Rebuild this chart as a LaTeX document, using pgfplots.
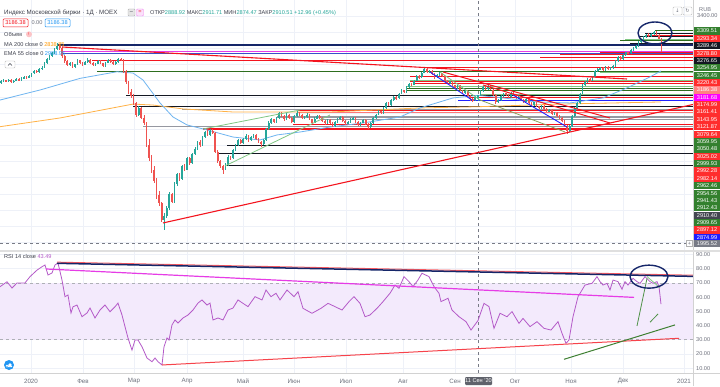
\documentclass[border=0pt]{standalone}
\usepackage{fontspec}
\setmainfont{Liberation Sans}
\newfontfamily\dejavu{DejaVu Sans}
\usepackage{pgfplots}
\pgfplotsset{compat=1.18}
\usepackage{pgfplotstable}

\definecolor{upc}{RGB}{38,166,154}
\definecolor{dnc}{RGB}{239,83,80}
\definecolor{navyc}{RGB}{21,38,105}
\definecolor{bluec2}{RGB}{57,80,200}
\definecolor{magc}{RGB}{230,60,230}
\definecolor{redc}{RGB}{244,20,30}
\definecolor{lredc}{RGB}{255,120,120}
\definecolor{dgreen}{RGB}{46,110,30}
\definecolor{lgreen}{RGB}{129,199,132}
\definecolor{blk}{RGB}{19,23,34}
\definecolor{grayc}{RGB}{150,152,161}
\definecolor{bluec}{RGB}{33,33,255}
\definecolor{mac}{RGB}{255,178,70}
\definecolor{emac}{RGB}{110,180,240}
\definecolor{rsic}{RGB}{180,90,200}
\definecolor{bandc}{RGB}{243,234,252}
\definecolor{gridc}{RGB}{238,241,248}
\definecolor{axtxt}{RGB}{110,113,125}
\definecolor{txt}{RGB}{60,63,75}
\definecolor{crossc}{RGB}{120,123,134}
\definecolor{labgreen}{RGB}{51,128,46}
\definecolor{labred}{RGB}{255,45,45}
\definecolor{labblack}{RGB}{19,23,34}
\definecolor{labpink}{RGB}{255,130,130}
\definecolor{labmag}{RGB}{255,0,255}
\definecolor{labdgray}{RGB}{67,70,81}
\definecolor{labblue}{RGB}{30,30,255}
\definecolor{emaval}{RGB}{33,150,243}
\definecolor{maval}{RGB}{255,152,0}
\definecolor{olive}{RGB}{140,160,90}

\newcommand\fs{\fontsize{6.2}{7}\selectfont}
\newcommand\fss{\fontsize{5.6}{6}\selectfont}

\pgfplotstableread{
i o h l c
0 2988 3002 2982 2995
1 2995 3008 2990 3002
2 3002 3006 2992 2998
3 2998 3012 2994 3005
4 3005 3009 2987 2993
5 2993 3006 2988 3000
6 3000 3016 2996 3010
7 3010 3014 2999 3004
8 3004 3020 3000 3015
9 3015 3028 3010 3022
10 3022 3026 3012 3018
11 3018 3034 3014 3028
12 3028 3050 3024 3045
13 3045 3066 3040 3060
14 3060 3064 3048 3055
15 3055 3078 3050 3072
16 3072 3088 3066 3080
17 3080 3116 3076 3110
18 3110 3140 3104 3135
19 3135 3158 3128 3150
20 3150 3176 3144 3170
21 3170 3202 3164 3195
22 3195 3232 3190 3215
23 3215 3225 3192 3200
24 3200 3206 3140 3150
25 3150 3158 3110 3120
26 3120 3128 3088 3095
27 3095 3118 3090 3110
28 3110 3115 3078 3085
29 3085 3106 3080 3100
30 3100 3132 3095 3125
31 3125 3130 3104 3110
32 3110 3115 3092 3098
33 3098 3124 3094 3118
34 3118 3138 3112 3130
35 3130 3134 3106 3112
36 3112 3116 3088 3095
37 3095 3110 3090 3105
38 3105 3128 3100 3122
39 3122 3126 3102 3108
40 3108 3112 3084 3090
41 3090 3118 3086 3112
42 3112 3134 3108 3128
43 3128 3132 3110 3115
44 3115 3120 3094 3100
45 3100 3124 3096 3118
46 3118 3142 3112 3135
47 3135 3140 3120 3128
48 3128 3132 3050 3060
49 3060 3068 2980 2990
50 2990 3000 2918 2930
51 2930 2950 2890 2905
52 2905 2915 2850 2860
53 2860 2870 2775 2790
54 2790 2845 2780 2830
55 2830 2836 2760 2770
56 2770 2790 2725 2740
57 2740 2745 2590 2600
58 2600 2640 2505 2520
59 2520 2540 2430 2445
60 2445 2470 2365 2380
61 2380 2395 2270 2290
62 2290 2320 2225 2240
63 2240 2250 2125 2140
64 2140 2180 2075 2165
65 2165 2225 2150 2210
66 2210 2310 2200 2300
67 2300 2305 2240 2250
68 2250 2370 2245 2360
69 2360 2430 2350 2420
70 2420 2428 2380 2390
71 2390 2480 2385 2470
72 2470 2482 2440 2450
73 2450 2530 2445 2520
74 2520 2526 2480 2490
75 2490 2555 2484 2545
76 2545 2590 2538 2580
77 2580 2628 2572 2620
78 2620 2630 2592 2600
79 2600 2660 2595 2650
80 2650 2688 2644 2680
81 2680 2692 2658 2665
82 2665 2700 2660 2690
83 2690 2698 2668 2675
84 2675 2680 2550 2560
85 2560 2572 2490 2500
86 2500 2512 2460 2470
87 2470 2478 2420 2450
88 2450 2488 2444 2480
89 2480 2540 2474 2530
90 2530 2536 2512 2520
91 2520 2578 2515 2570
92 2570 2608 2564 2600
93 2600 2638 2594 2630
94 2630 2636 2608 2615
95 2615 2648 2610 2640
96 2640 2668 2634 2660
97 2660 2665 2622 2630
98 2630 2658 2624 2650
99 2650 2672 2644 2665
100 2665 2670 2632 2640
101 2640 2646 2612 2620
102 2620 2626 2590 2605
103 2605 2638 2600 2630
104 2630 2708 2625 2700
105 2700 2748 2694 2740
106 2740 2768 2734 2760
107 2760 2765 2738 2745
108 2745 2778 2740 2770
109 2770 2808 2764 2800
110 2800 2806 2774 2780
111 2780 2786 2752 2760
112 2760 2798 2755 2790
113 2790 2796 2764 2770
114 2770 2775 2738 2745
115 2745 2788 2740 2780
116 2780 2810 2774 2800
117 2800 2806 2784 2790
118 2790 2795 2764 2770
119 2770 2782 2762 2775
120 2775 2798 2770 2790
121 2790 2795 2754 2760
122 2760 2765 2732 2740
123 2740 2772 2735 2765
124 2765 2788 2760 2780
125 2780 2785 2764 2770
126 2770 2775 2744 2750
127 2750 2756 2728 2735
128 2735 2762 2730 2755
129 2755 2760 2734 2740
130 2740 2746 2712 2720
131 2720 2752 2715 2745
132 2745 2768 2740 2760
133 2760 2782 2755 2775
134 2775 2780 2744 2750
135 2750 2755 2728 2735
136 2735 2752 2730 2745
137 2745 2766 2740 2760
138 2760 2778 2755 2770
139 2770 2775 2740 2745
140 2745 2750 2718 2725
141 2725 2746 2720 2740
142 2740 2762 2735 2755
143 2755 2760 2724 2730
144 2730 2735 2700 2715
145 2715 2742 2710 2735
146 2735 2778 2730 2770
147 2770 2796 2765 2790
148 2790 2816 2785 2810
149 2810 2815 2792 2800
150 2800 2836 2795 2830
151 2830 2866 2825 2860
152 2860 2865 2842 2850
153 2850 2886 2845 2880
154 2880 2908 2874 2900
155 2900 2905 2882 2890
156 2890 2926 2885 2920
157 2920 2946 2915 2940
158 2940 2945 2922 2930
159 2930 2966 2925 2960
160 2960 2986 2955 2980
161 2980 2986 2968 2975
162 2975 3006 2970 3000
163 3000 3036 2995 3030
164 3030 3035 3012 3020
165 3020 3056 3015 3050
166 3050 3082 3045 3070
167 3070 3076 3048 3055
168 3055 3068 3050 3060
169 3060 3064 3034 3040
170 3040 3045 3012 3020
171 3020 3042 3015 3035
172 3035 3052 3030 3045
173 3045 3050 3024 3030
174 3030 3035 2994 3000
175 3000 3005 2978 2985
176 2985 3000 2980 2995
177 2995 3000 2964 2970
178 2970 2975 2948 2955
179 2955 2970 2950 2965
180 2965 2970 2934 2940
181 2940 2945 2918 2925
182 2925 2940 2920 2935
183 2935 2940 2898 2905
184 2905 2910 2875 2885
185 2885 2890 2870 2880
186 2880 2904 2876 2897.55
187 2888.92 2911.71 2874.47 2910.51
188 2910 2940 2905 2935
189 2935 2966 2930 2960
190 2960 2965 2944 2950
191 2950 2972 2945 2965
192 2965 2970 2940 2945
193 2945 2950 2905 2910
194 2910 2915 2858 2870
195 2870 2885 2862 2880
196 2880 2910 2875 2905
197 2905 2926 2900 2920
198 2920 2925 2908 2915
199 2915 2920 2894 2900
200 2900 2930 2895 2925
201 2925 2930 2904 2910
202 2910 2915 2884 2890
203 2890 2906 2885 2900
204 2900 2905 2874 2880
205 2880 2885 2864 2870
206 2870 2890 2865 2885
207 2885 2890 2854 2860
208 2860 2865 2844 2850
209 2850 2870 2845 2865
210 2865 2870 2834 2840
211 2840 2845 2824 2830
212 2830 2850 2825 2845
213 2845 2850 2819 2825
214 2825 2830 2804 2810
215 2810 2826 2805 2820
216 2820 2825 2790 2795
217 2795 2806 2790 2800
218 2800 2805 2774 2780
219 2780 2786 2764 2770
220 2770 2775 2744 2750
221 2750 2755 2712 2720
222 2720 2728 2670 2690
223 2690 2728 2680 2720
224 2720 2786 2715 2780
225 2780 2836 2775 2830
226 2830 2866 2825 2860
227 2860 2926 2855 2920
228 2920 2982 2915 2975
229 2975 2996 2968 2990
230 2990 3016 2985 3010
231 3010 3015 2992 3000
232 3000 3030 2995 3025
233 3025 3066 3020 3060
234 3060 3076 3054 3070
235 3070 3086 3064 3080
236 3080 3085 3058 3065
237 3065 3090 3060 3085
238 3085 3090 3064 3070
239 3070 3084 3066 3078
240 3078 3096 3072 3090
241 3090 3126 3085 3120
242 3120 3150 3115 3145
243 3145 3150 3128 3135
244 3135 3166 3130 3160
245 3160 3180 3155 3175
246 3175 3180 3162 3170
247 3170 3196 3165 3190
248 3190 3206 3185 3200
249 3200 3220 3195 3215
250 3215 3246 3210 3240
251 3240 3260 3234 3255
252 3255 3276 3250 3270
253 3270 3290 3264 3285
254 3285 3292 3268 3275
255 3275 3296 3270 3290
256 3290 3310 3284 3300
257 3300 3305 3278 3285
258 3285 3290 3255 3260
259 3250 3262 3176 3186.38
}\candles

\pgfplotstableread{
x r
0 67.3
7 70.8
12 66.4
17 70
25 70
30 74.4
37 79
42 81.4
45 82.6
48 75.6
52 77
55 82.6
58 84
62 72
65 60.3
68 61.5
71 48.8
73 53.2
77 54.4
82 46.2
87 48.8
90 52.3
95 45.3
100 50.9
105 54.4
110 49.7
115 53.2
118 55.8
122 47.4
125 39.2
128 31.2
132 22.7
135 29.8
138 29.8
142 25
147 17.1
152 14.5
155 17.1
158 14.5
162 12.2
164 25
167 31.2
169 29.8
172 40.4
175 43.9
178 41.8
183 45.3
188 47.4
193 50.9
198 55.8
202 58
207 54.4
210 55.8
213 43.9
218 45.3
223 43.9
228 50.9
233 52.3
238 58
243 55.6
248 53.3
255 60.3
262 58
266 65
271 60.3
276 62.7
280 58
287 65
294 60.3
298 63.8
303 52.1
312 48.6
321 52.1
328 55.6
335 53.3
342 50.9
349 56.8
354 60.3
360 55.6
365 46.2
370 47.4
377 52.1
383 56.8
390 62.7
395 68.5
399 66.2
404 74.4
409 70.9
413 67.4
418 72.1
422 76.8
429 74.4
434 67.4
439 62.7
441 56.8
448 59.2
452 50.9
459 46.2
466 42.7
471 36.8
478 43.5
484 55.6
489 53.3
494 38
500 48.6
507 46.2
512 49.8
519 41.5
523 45
530 39.2
537 42.7
544 38
551 36.8
558 42.7
562 34.5
566 27.4
569 29.8
573 46.2
578 60.3
585 68.5
592 69.7
597 74.4
600 70.9
603 68.5
607 69.7
610 65
613 72
618 70.9
622 65.5
625 70.9
628 68.5
633 73.2
637 70.9
640 69.7
645 74.4
650 70.9
653 69.7
657 70.9
659 67.4
661 55
}\rsi

\pgfplotstableread{
x p
0 2715
60 2769
133 2855
153 2849
183 2825
233 2806
330 2806
420 2831
480 2839
560 2855
661 2868
}\maline

\pgfplotstableread{
x p
0 2880
40 2942
80 3014
117 3055
133 3047
143 3004
160 2862
173 2775
187 2726
207 2695
233 2651
260 2633
277 2664
300 2682
330 2713
363 2738
400 2775
420 2831
453 2893
478 2909
503 2893
537 2868
570 2862
603 2893
627 2955
650 3023
661 3060
}\emaline

\begin{document}
\begin{tikzpicture}[x=1pt,y=1pt]
\fill[white] (0,0) rectangle (720,386);

% ================= MAIN PRICE PANEL =================
\begin{axis}[
  at={(0pt,136pt)}, anchor=south west, scale only axis,
  width=693pt, height=250pt,
  xmin=0, xmax=693, ymin=1952, ymax=3499,
  axis line style={draw=none}, tick style={draw=none},
  xtick={31,83,134,187,243,294,346,403,455,515,571,623,684},
  ytick={2000,2100,...,3400},
  xticklabels={}, yticklabels={},
  xmajorgrids, ymajorgrids,
  grid style={color=gridc, line width=0.5pt},
]
% horizontal level lines
\addplot[navyc, line width=1.3pt] coordinates {(57,3220.43)(693,3220.43)};
\addplot[navyc, line width=1.0pt] coordinates {(63,3178)(693,3178)};
\addplot[bluec2, line width=0.8pt] coordinates {(63,3167)(693,3167)};
\addplot[magc, line width=0.8pt] coordinates {(63,3181.68)(693,3181.68)};
\addplot[redc, line width=0.8pt] coordinates {(648,3293.34)(693,3293.34)};
\addplot[redc, line width=0.8pt] coordinates {(645,3278.80)(693,3278.80)};
\addplot[redc, line width=0.8pt] coordinates {(600,3174.99)(693,3174.99)};
\addplot[redc, line width=0.8pt] coordinates {(560,3161.41)(693,3161.41)};
\addplot[redc, line width=0.8pt] coordinates {(540,3143.95)(693,3143.95)};
\addplot[redc, line width=1.0pt] coordinates {(92,3121.87)(693,3121.87)};
\addplot[redc, line width=1.0pt] coordinates {(423,3079.64)(693,3079.64)};
\addplot[redc, line width=0.8pt] coordinates {(410,3025.02)(693,3025.02)};
\addplot[redc, line width=0.8pt] coordinates {(410,2992.28)(693,2992.28)};
\addplot[redc, line width=0.8pt] coordinates {(415,2982.14)(693,2982.14)};
\addplot[redc, line width=0.8pt] coordinates {(470,2897.12)(693,2897.12)};
\addplot[redc, line width=0.9pt] coordinates {(298,2818)(693,2818)};
\addplot[lredc, line width=0.9pt] coordinates {(298,2806)(693,2806)};
\addplot[redc, line width=0.8pt] coordinates {(293,2732)(693,2732)};
\addplot[redc, line width=1.3pt] coordinates {(203,2701)(693,2701)};
\addplot[dgreen, line width=0.8pt] coordinates {(655,3309.51)(693,3309.51)};
\addplot[lgreen, line width=1.0pt] coordinates {(625,3254.95)(693,3254.95)};
\addplot[dgreen, line width=0.8pt] coordinates {(620,3246.45)(693,3246.45)};
\addplot[dgreen, line width=0.9pt] coordinates {(97,3059.95)(693,3059.95)};
\addplot[lgreen, line width=1.0pt] coordinates {(600,3050.48)(693,3050.48)};
\addplot[lgreen, line width=1.5pt] coordinates {(410,2999.93)(693,2999.93)};
\addplot[lgreen, line width=1.0pt] coordinates {(407,2962.46)(693,2962.46)};
\addplot[dgreen, line width=0.8pt] coordinates {(407,2954.56)(693,2954.56)};
\addplot[dgreen, line width=0.9pt] coordinates {(407,2941.43)(693,2941.43)};
\addplot[lgreen, line width=0.8pt] coordinates {(480,2912.43)(693,2912.43)};
\addplot[lgreen, line width=0.8pt] coordinates {(480,2909.65)(693,2909.65)};
\addplot[blk, line width=0.8pt] coordinates {(645,3289.46)(693,3289.46)};
\addplot[blk, line width=0.8pt] coordinates {(640,3276.65)(693,3276.65)};
\addplot[blk, line width=0.9pt] coordinates {(630,3233)(693,3233)};
\addplot[blk, line width=0.9pt] coordinates {(126,2910.40)(693,2910.40)};
\addplot[blk, line width=0.8pt] coordinates {(133,2843)(693,2843)};
\addplot[blk, line width=0.9pt] coordinates {(227,2596)(693,2596)};
\addplot[blk, line width=0.9pt] coordinates {(218,2552)(693,2552)};
\addplot[blk, line width=0.9pt] coordinates {(227,2478)(693,2478)};
\addplot[grayc, line width=1.0pt] coordinates {(182,2824.5)(693,2824.5)};
\addplot[grayc, line width=1.6pt] coordinates {(277,2775)(693,2775)};
\addplot[grayc, line width=1.6pt] coordinates {(143,2715)(693,2715)};
\addplot[grayc, line width=1.2pt] coordinates {(320,2762)(693,2762)};
\addplot[bluec, line width=0.8pt] coordinates {(458,2874.99)(693,2874.99)};
\addplot[bluec, line width=1.6pt] coordinates {(458,2876)(490,2876)};
% moving averages
\addplot[mac, line width=0.8pt] table[x=x, y=p] {\maline};
\addplot[emac, line width=0.8pt] table[x=x, y=p] {\emaline};
% crosshair
\addplot[crossc, dashed, line width=0.5pt] coordinates {(478,1952)(478,3499)};
\addplot[crossc, dashed, line width=0.5pt] coordinates {(0,1995.52)(693,1995.52)};
% candles: wicks
\addplot[draw=none, mark=none, forget plot, restrict expr to domain={\thisrow{c}-\thisrow{o}}{0:100000},
  error bars/.cd, y dir=both, y explicit, error mark=none,
  error bar style={draw=upc, line width=0.6pt, solid}]
  table[x expr={1+2.55*\thisrow{i}}, y expr={(\thisrow{h}+\thisrow{l})/2}, y error expr={(\thisrow{h}-\thisrow{l})/2}] {\candles};
\addplot[draw=none, mark=none, forget plot, restrict expr to domain={\thisrow{c}-\thisrow{o}}{-100000:-0.001},
  error bars/.cd, y dir=both, y explicit, error mark=none,
  error bar style={draw=dnc, line width=0.6pt, solid}]
  table[x expr={1+2.55*\thisrow{i}}, y expr={(\thisrow{h}+\thisrow{l})/2}, y error expr={(\thisrow{h}-\thisrow{l})/2}] {\candles};
% candles: bodies
\addplot[draw=none, mark=none, forget plot, restrict expr to domain={\thisrow{c}-\thisrow{o}}{0:100000},
  error bars/.cd, y dir=both, y explicit, error mark=none,
  error bar style={draw=upc, line width=1.7pt, solid}]
  table[x expr={1+2.55*\thisrow{i}}, y expr={(\thisrow{o}+\thisrow{c})/2}, y error expr={max(abs(\thisrow{c}-\thisrow{o})/2,3)}] {\candles};
\addplot[draw=none, mark=none, forget plot, restrict expr to domain={\thisrow{c}-\thisrow{o}}{-100000:-0.001},
  error bars/.cd, y dir=both, y explicit, error mark=none,
  error bar style={draw=dnc, line width=1.7pt, solid}]
  table[x expr={1+2.55*\thisrow{i}}, y expr={(\thisrow{o}+\thisrow{c})/2}, y error expr={max(abs(\thisrow{c}-\thisrow{o})/2,3)}] {\candles};
% trend lines
\addplot[redc, line width=1.1pt] coordinates {(62,3208.2)(627,3010.2)};
\addplot[redc, line width=1.1pt] coordinates {(163,2119.3)(693,2852.5)};
\addplot[lgreen, line width=0.8pt] coordinates {(203,2700.9)(300,2818.4)};
\addplot[lgreen, line width=0.8pt] coordinates {(225,2472)(330,2787.5)};
\addplot[lgreen, line width=0.8pt] coordinates {(440,3053.5)(480,2880.3)};
\addplot[olive, line width=0.8pt] coordinates {(480,2880.3)(565,2682.3)};
\addplot[bluec, line width=0.9pt] coordinates {(430,3053.5)(472,2880.3)};
\addplot[bluec, line width=0.9pt] coordinates {(513,2911.2)(567,2713.2)};
\addplot[redc, line width=1.0pt] coordinates {(443,3053.5)(610,2768.9)};
\addplot[redc, line width=1.0pt] coordinates {(483,2973.1)(610,2738)};
\draw[navyc, line width=1.4pt] (axis cs:655,3294.8) ellipse [x radius=17pt, y radius=11pt];
\end{axis}

% ================= RSI PANEL =================
\begin{axis}[
  at={(0pt,13pt)}, anchor=south west, scale only axis,
  width=693pt, height=121pt,
  xmin=0, xmax=693, ymin=6.55, ymax=91.76,
  axis line style={draw=none}, tick style={draw=none},
  xtick={31,83,134,187,243,294,346,403,455,515,571,623,684},
  xticklabels={2020,Фев,Мар,Апр,Май,Июн,Июл,Авг,Сен,Окт,Ноя,Дек,2021},
  ytick={10,20,...,90},
  yticklabel pos=right,
  /pgf/number format/.cd, fixed, fixed zerofill, precision=2, assume math mode=true,
  /pgfplots/.cd,
  xticklabel style={font=\fs, text=axtxt, anchor=center, yshift=-8pt, inner sep=0pt},
  yticklabel style={font=\fss, text=axtxt, anchor=west, xshift=3pt, inner sep=0pt},
  xmajorgrids, ymajorgrids,
  grid style={color=gridc, line width=0.5pt},
]
\addplot[fill=bandc, draw=none] coordinates {(0,30)(693,30)(693,70)(0,70)} -- cycle;
\addplot[crossc!60, dashed, line width=0.5pt] coordinates {(0,70)(693,70)};
\addplot[crossc!60, dashed, line width=0.5pt] coordinates {(0,30)(693,30)};
\addplot[crossc, dashed, line width=0.5pt] coordinates {(478,6.55)(478,91.76)};
\addplot[rsic, line width=0.8pt] table[x=x, y=r] {\rsi};
\addplot[redc!70, line width=1.0pt] coordinates {(57,84.6)(693,75.4)};
\addplot[navyc, line width=1.5pt] coordinates {(57,83.8)(693,74.6)};
\addplot[magc, line width=1.2pt] coordinates {(46,79.8)(634,59.8)};
\addplot[redc!80, line width=1.0pt] coordinates {(162,12.2)(679,31)};
\addplot[dgreen!80!lgreen, line width=1.0pt] coordinates {(564,16.2)(675,40.4)};
\addplot[dgreen!60!lgreen, line width=0.8pt] coordinates {(637,39.7)(647,73.2)};
\addplot[dgreen!60!lgreen, line width=0.8pt] coordinates {(650,42.3)(658,48.1)};
\addplot[lgreen, line width=0.8pt] coordinates {(647,74.5)(660,66.5)};
\draw[navyc, line width=1.4pt] (axis cs:649,74.4) ellipse [x radius=19pt, y radius=11.5pt];
\end{axis}

% ================= chrome =================
\draw[gray!35, line width=0.6pt] (693,0) -- (693,386);
\draw[gray!35, line width=0.6pt] (0,13) -- (720,13);
\fill[gray!25] (0,134) rectangle (720,136);

% stacked price labels
\foreach \v/\c [count=\k from 0] in {3309.51/labgreen,3293.34/labred,3289.46/labblack,3278.80/labred,3276.65/labblack,3254.95/labgreen,3246.45/labgreen,3220.43/labred,3186.38/labpink,3181.68/labmag,3174.99/labred,3161.41/labred,3143.95/labred,3121.87/labred,3079.64/labred,3059.95/labgreen,3050.48/labgreen,3025.02/labred,2999.93/labgreen,2992.28/labred,2982.14/labred,2962.46/labgreen,2954.56/labgreen,2941.43/labgreen,2912.43/labgreen,2910.40/labdgray,2909.65/labgreen,2897.12/labred,2874.99/labblue}
{
  \pgfmathsetmacro\yy{386-31-7.37*\k}
  \node[fill=\c, text=white, font=\fss, minimum width=26pt, minimum height=7.2pt, inner sep=0pt] at (707,\yy) {\v};
}
\node[fill=crossc, text=white, font=\fss, minimum width=26pt, minimum height=7.2pt, inner sep=0pt] at (707,142.7) {1995.52};
\draw[gray!60, fill=white] (686.5,139.5) rectangle (692.5,145.5);
\node[font=\fss, text=axtxt, inner sep=0pt] at (689.5,142.5) {+};

\node[font=\fss, text=axtxt, anchor=west, inner sep=0pt] at (697,370) {3400.00};
\node[font=\fss, text=axtxt, anchor=west, inner sep=0pt] at (699,376.5) {RUB};
\draw[gray!50, rounded corners=1pt] (673,371) rectangle (682,379);
\node[font=\dejavu\fontsize{5}{5}\selectfont, text=axtxt, inner sep=0pt] at (677.5,375) {↓};
\draw[gray!50, rounded corners=1pt] (683,371) rectangle (692,379);
\node[font=\dejavu\fontsize{5}{5}\selectfont, text=axtxt, inner sep=0pt] at (687.5,375) {↻};

% header legend
\node[font=\fs, text=txt, anchor=west, inner sep=0pt] at (4,373.3) {Индекс Московской биржи · 1Д · MOEX};
\draw[gray!60, fill=gray!20, rounded corners=1pt] (128,370) rectangle (135,377);
\node[font=\fss, text=txt, inner sep=0pt] at (131.5,373.5) {–};
\draw[magc!60, fill=magc!15, rounded corners=1pt] (136.5,370) rectangle (143.5,377);
\node[font=\fss, text=redc, inner sep=0pt] at (140,373.5) {=};
\node[font=\fss, anchor=west, inner sep=0pt] at (150,373.3) {\textcolor{txt}{ОТКР}\textcolor{upc}{2888.92} \textcolor{txt}{МАКС}\textcolor{upc}{2911.71} \textcolor{txt}{МИН}\textcolor{upc}{2874.47} \textcolor{txt}{ЗАКР}\textcolor{upc}{2910.51 +12.96 (+0.45\%)}};

\draw[redc, line width=0.5pt, rounded corners=1pt, fill=white] (3,359) rectangle (28,367);
\node[font=\fss, text=redc, inner sep=0pt] at (15.5,363) {3186.38};
\node[font=\fss, text=axtxt, inner sep=0pt] at (37,363) {0.00};
\draw[emaval, line width=0.5pt, rounded corners=1pt, fill=white] (45,359) rectangle (70,367);
\node[font=\fss, text=emaval, inner sep=0pt] at (57.5,363) {3186.38};

\node[font=\fss, text=txt, anchor=west, inner sep=0pt] at (4,351.7) {Объем};
\fill[redc!25] (29,351.7) circle (3pt);
\node[font=\fontsize{4}{4}\selectfont, text=redc, inner sep=0pt] at (29,351.7) {!};
\node[font=\fss, anchor=west, inner sep=0pt] at (4,341.7) {\textcolor{txt}{MA 200 close 0}\ \textcolor{maval}{2838.85}};
\node[font=\fss, anchor=west, inner sep=0pt] at (4,332.7) {\textcolor{txt}{EMA 55 close 0}\ \textcolor{emaval}{2908.95}};
\draw[gray!50, fill=white, rounded corners=1pt] (5,318) rectangle (15,325);
\draw[txt, line width=0.5pt] (8,320.5) -- (10,322.5) -- (12,320.5);

\node[font=\fss, anchor=west, inner sep=0pt] at (4,129.3) {\textcolor{txt}{RSI 14 close}\ \textcolor{rsic}{43.49}};
\fill[emaval] (9,21) circle (5pt);
\fill[white] (7,20) circle (1.4pt) (10,21) circle (1.8pt) (6,19) rectangle (12,20);

% crosshair date label
\fill[crossc!80!black, rounded corners=1pt] (465,1) rectangle (492,9);
\node[font=\fss, text=white, inner sep=0pt] at (478.5,5) {11 Сен '20};

\pgfresetboundingbox
\useasboundingbox (0,0) rectangle (720,386);
\end{tikzpicture}
\end{document}
